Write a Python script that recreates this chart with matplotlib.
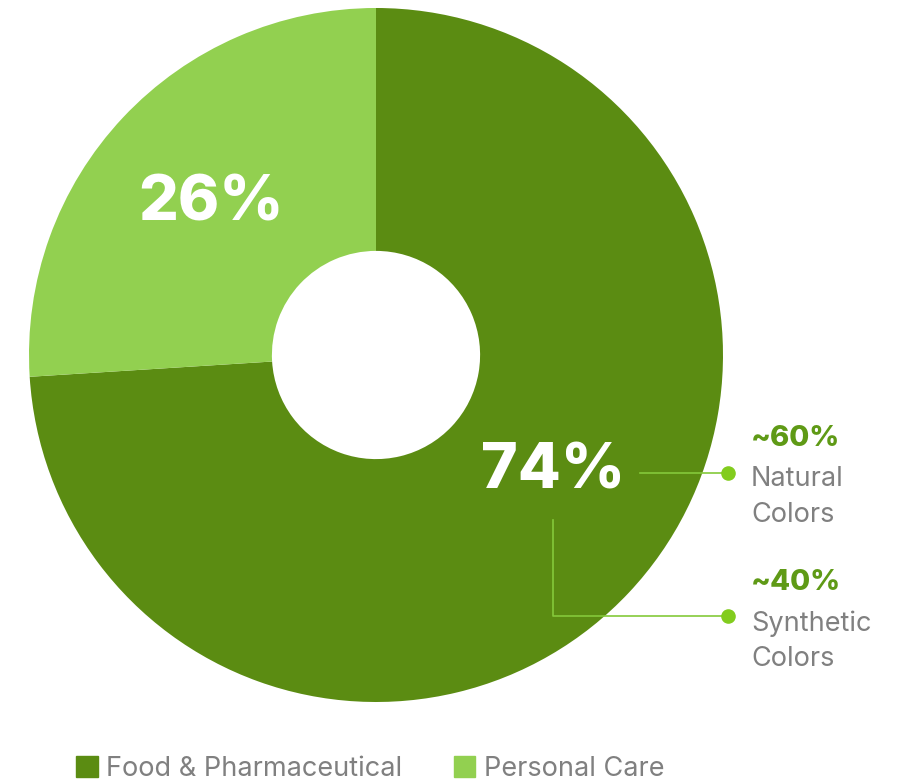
import matplotlib
matplotlib.use("Agg")
import matplotlib.pyplot as plt
from matplotlib.patches import Patch

plt.rcParams['font.family'] = ['Inter', 'DejaVu Sans']

segments = ['Food & Pharmaceutical', 'Personal Care']
shares = [74, 26]
seg_colors = ['#5b8c12', '#92d050']
split_values = ['~60%', '~40%']
split_names = ['Natural\nColors', 'Synthetic\nColors']

W, H = 900, 781
fig = plt.figure(figsize=(9, 7.81), dpi=100)
ax = fig.add_axes([0, 0, 1, 1])

cx, cy, r = 376, H - 355, 347
ax.pie(shares, colors=seg_colors, startangle=90, counterclock=False,
       center=(cx, cy), radius=r, frame=True,
       wedgeprops=dict(width=r * 0.70, linewidth=0))
ax.set_xlim(0, W)
ax.set_ylim(0, H)
ax.set_aspect('equal')
ax.axis('off')

# big percentage labels
ax.text(553, H - 472, f'{shares[0]}%', color='white', fontsize=45,
        fontweight='heavy', ha='center', va='center')
ax.text(211, H - 204, f'{shares[1]}%', color='white', fontsize=45,
        fontweight='heavy', ha='center', va='center')

# callout lines
line_c = '#84c93a'
ax.plot([640, 728], [H - 473, H - 473], color=line_c, lw=1.2)
ax.plot([553, 553, 728], [H - 520, H - 616, H - 616], color=line_c, lw=1.2)
ax.scatter([728, 728], [H - 473, H - 616], s=90, color='#82cc1e', zorder=5)

for i, yy in enumerate([438, 582]):
    ax.text(751, H - yy, split_values[i], color='#5f9a16', fontsize=21,
            fontweight='heavy', ha='left', va='center')
    ax.text(751, H - (yy + 59), split_names[i], color='#808080', fontsize=19.5,
            ha='left', va='center', linespacing=1.45)

handles = [Patch(color=c, label=s) for c, s in zip(seg_colors, segments)]
fig.legend(handles=handles, loc='center left', bbox_to_anchor=(52 / W, 12 / H),
           ncol=2, frameon=False, fontsize=19.5, labelcolor='#808080',
           handlelength=0.8, handleheight=0.8, handletextpad=0.3,
           columnspacing=1.9)

fig.savefig('out.png', dpi=100)
